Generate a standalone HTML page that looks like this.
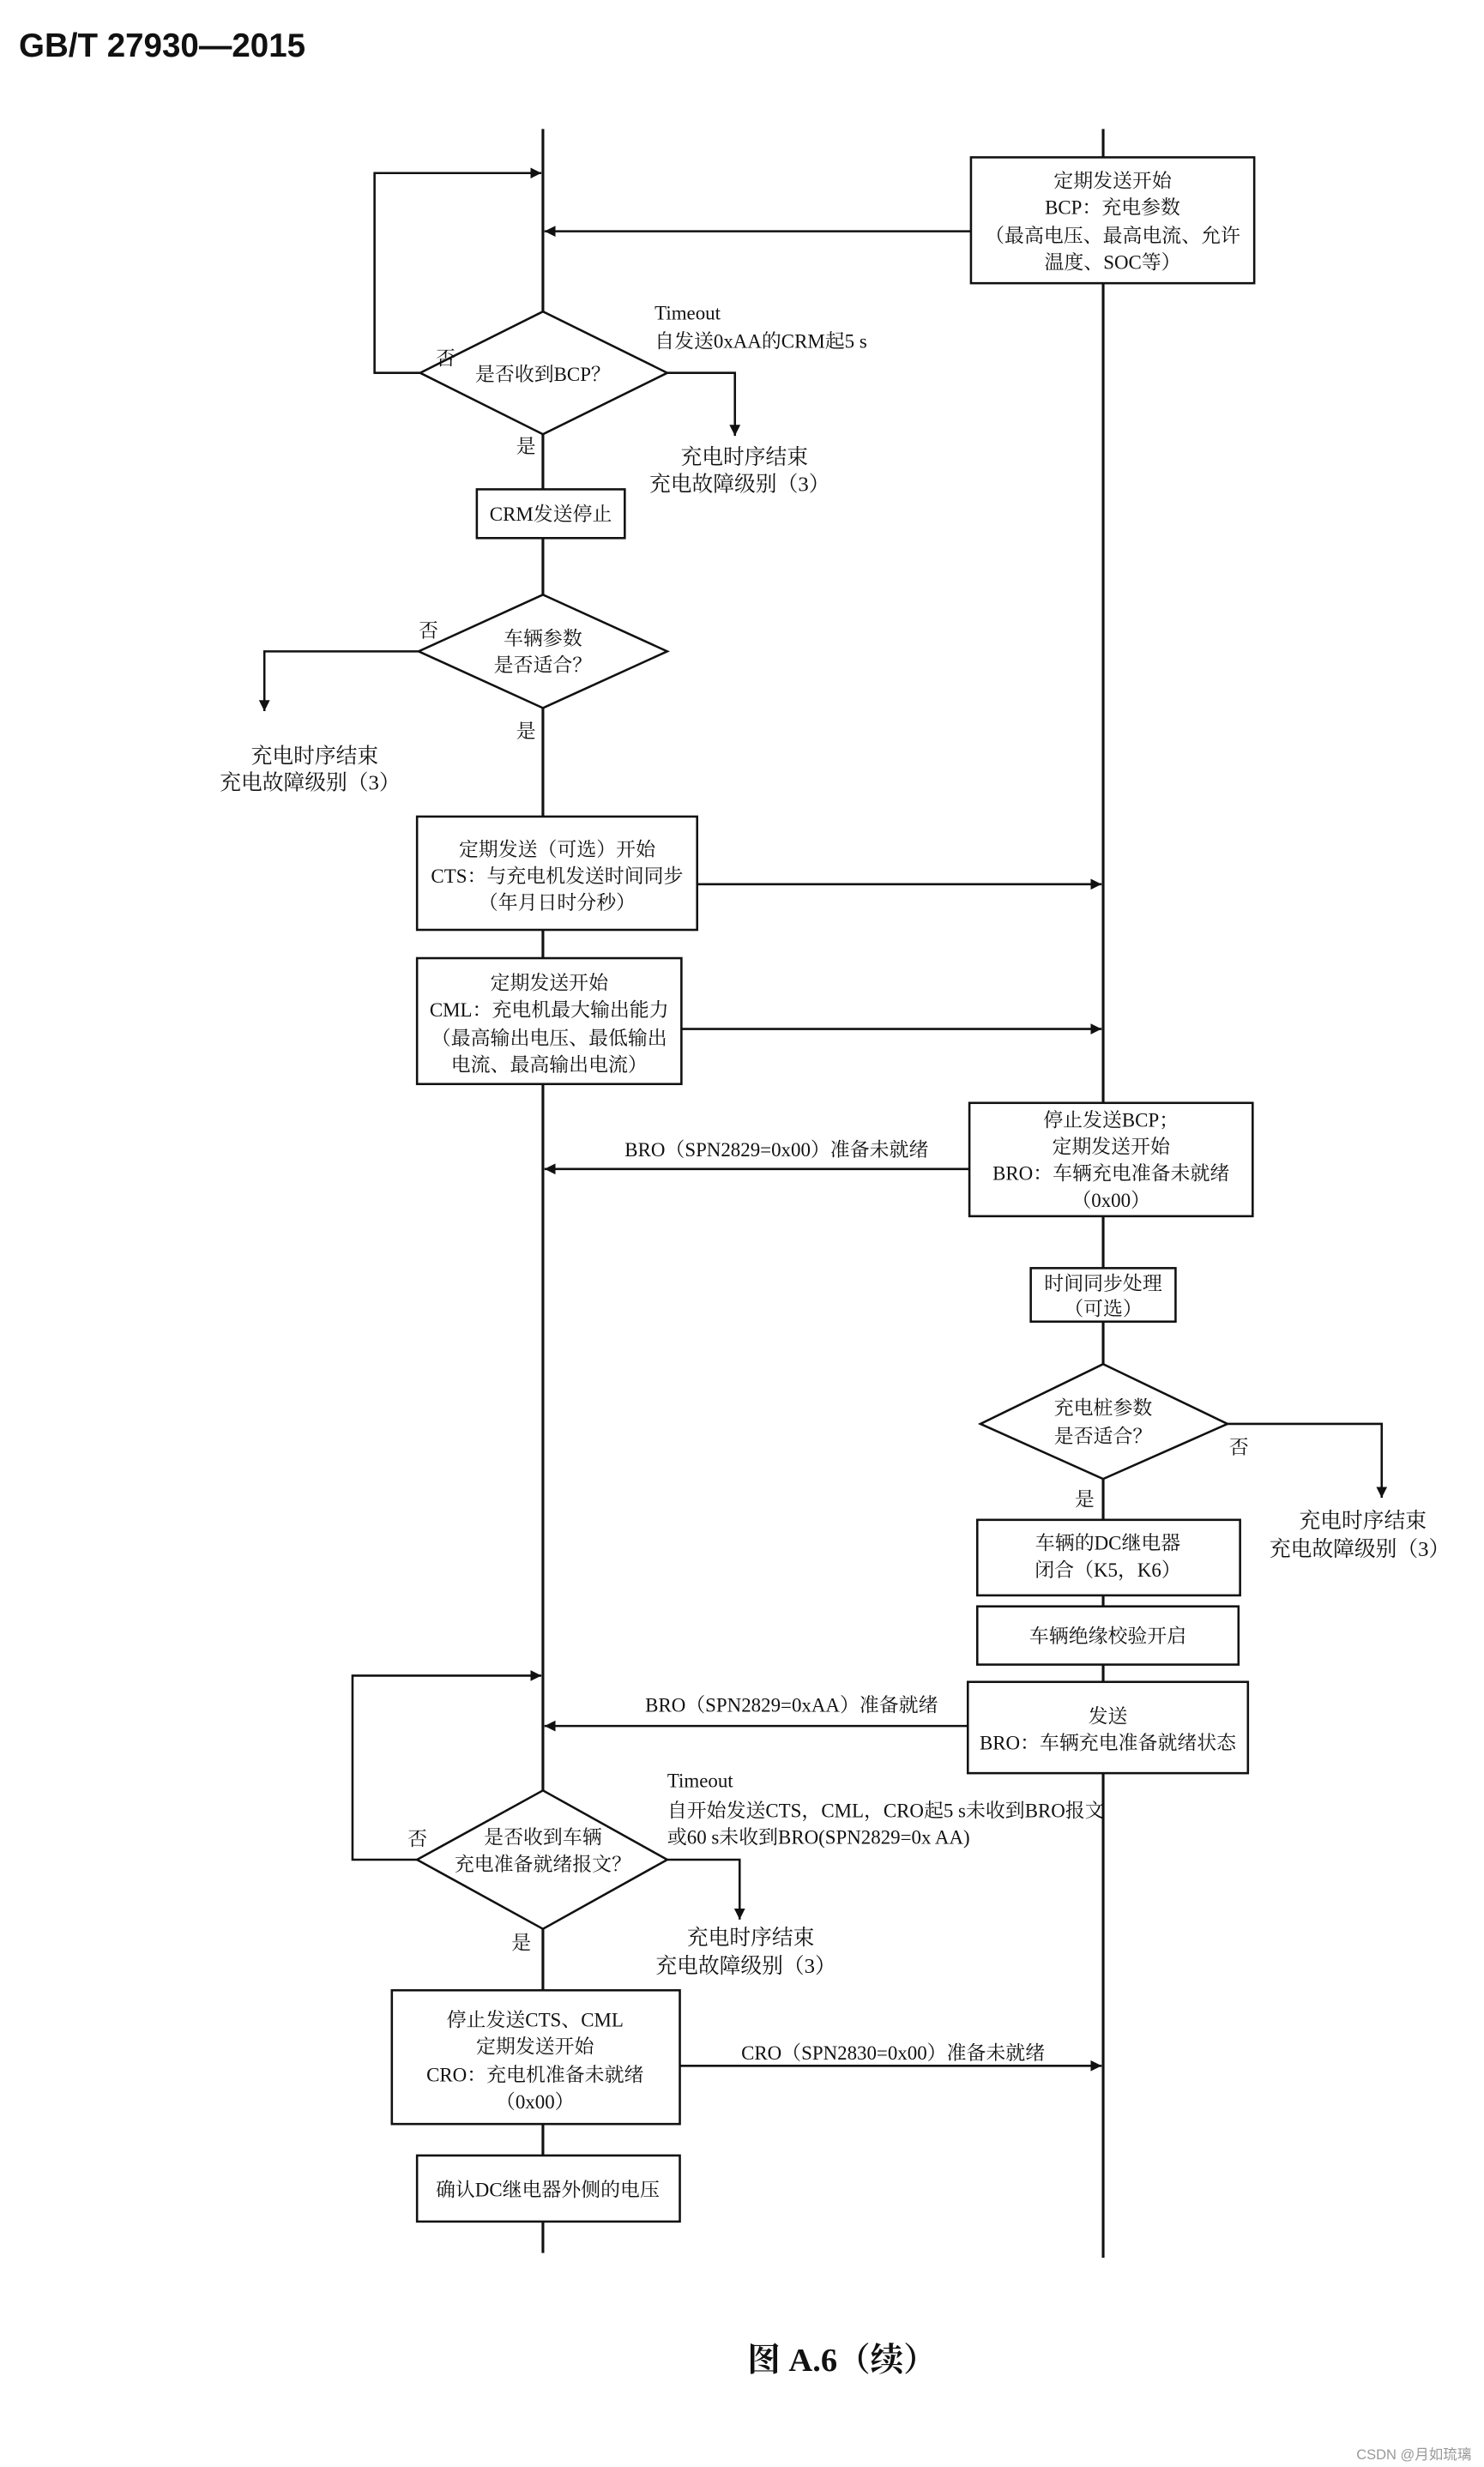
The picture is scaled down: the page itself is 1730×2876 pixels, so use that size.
<!DOCTYPE html>
<html><head><meta charset="utf-8"><style>
html,body{margin:0;padding:0;background:#fff;}
svg{display:block;}
text{font-family:"Liberation Serif","Noto Serif CJK SC",serif;font-size:12.5px;fill:#111;}
.c{text-anchor:middle;}
</style></head><body>
<svg width="1730" height="2876" viewBox="0 0 943 1568" preserveAspectRatio="none" xmlns="http://www.w3.org/2000/svg">
<defs><marker id="a" viewBox="0 0 10 10" refX="10" refY="5" markerWidth="7" markerHeight="7" orient="auto" markerUnits="userSpaceOnUse"><path d="M0,0 L10,5 L0,10 z" fill="#111"/></marker></defs>
<text x="12" y="36" style="font-family:'Liberation Sans',sans-serif;font-size:21px;font-weight:bold">GB/T 27930—2015</text>
<g stroke="#111" stroke-width="1.7" fill="none">
<line x1="345" y1="82" x2="345" y2="1432"/>
<line x1="701" y1="82" x2="701" y2="1435"/>
</g>
<g stroke="#111" stroke-width="1.4" fill="#fff">
<rect x="617" y="100" width="180" height="80"/>
<polygon points="345,198 424,237 345,276 267,237"/>
<rect x="303" y="311" width="94" height="31"/>
<polygon points="345,378 424,414 345,450 266,414"/>
<rect x="265" y="519" width="178" height="72"/>
<rect x="265" y="609" width="168" height="80"/>
<rect x="616" y="701" width="180" height="72"/>
<rect x="655" y="806" width="92" height="34"/>
<polygon points="701,867 780,905 701,940 623,905"/>
<rect x="621" y="966" width="167" height="48"/>
<rect x="621" y="1021" width="166" height="37"/>
<rect x="615" y="1069" width="178" height="58"/>
<polygon points="345,1138 424,1182 345,1226 265,1182"/>
<rect x="249" y="1265" width="183" height="85"/>
<rect x="265" y="1370" width="167" height="42"/>
</g>
<g stroke="#111" stroke-width="1.4" fill="none" marker-end="url(#a)">
<line x1="617" y1="147" x2="346" y2="147"/>
<polyline points="267,237 238,237 238,110 344,110"/>
<polyline points="424,237 467,237 467,277"/>
<polyline points="266,414 168,414 168,452"/>
<line x1="443" y1="562" x2="700" y2="562"/>
<line x1="433" y1="654" x2="700" y2="654"/>
<line x1="616" y1="743" x2="346" y2="743"/>
<polyline points="780,905 878,905 878,952"/>
<line x1="615" y1="1097" x2="346" y2="1097"/>
<polyline points="265,1182 224,1182 224,1065 344,1065"/>
<polyline points="424,1182 470,1182 470,1220"/>
<line x1="432" y1="1313" x2="700" y2="1313"/>
</g>
<g class="c">
<text class="c" x="707" y="119">定期发送开始</text>
<text class="c" x="707" y="136">BCP：充电参数</text>
<text class="c" x="707" y="154">（最高电压、最高电流、允许</text>
<text class="c" x="707" y="171">温度、SOC等）</text>
<text class="c" x="345" y="242">是否收到BCP？</text>
<text class="c" x="350" y="331">CRM发送停止</text>
<text class="c" x="345" y="410">车辆参数</text>
<text class="c" x="345" y="427">是否适合？</text>
<text class="c" x="354" y="544">定期发送（可选）开始</text>
<text class="c" x="354" y="561">CTS：与充电机发送时间同步</text>
<text class="c" x="354" y="578">（年月日时分秒）</text>
<text class="c" x="349" y="629">定期发送开始</text>
<text class="c" x="349" y="646">CML：充电机最大输出能力</text>
<text class="c" x="349" y="664">（最高输出电压、最低输出</text>
<text class="c" x="349" y="681">电流、最高输出电流）</text>
<text class="c" x="706" y="716">停止发送BCP；</text>
<text class="c" x="706" y="733">定期发送开始</text>
<text class="c" x="706" y="750">BRO：车辆充电准备未就绪</text>
<text class="c" x="706" y="767">（0x00）</text>
<text class="c" x="701" y="820">时间同步处理</text>
<text class="c" x="701" y="836">（可选）</text>
<text class="c" x="701" y="899">充电桩参数</text>
<text class="c" x="701" y="917">是否适合？</text>
<text class="c" x="704" y="985">车辆的DC继电器</text>
<text class="c" x="704" y="1002">闭合（K5，K6）</text>
<text class="c" x="704" y="1044">车辆绝缘校验开启</text>
<text class="c" x="704" y="1095">发送</text>
<text class="c" x="704" y="1112">BRO：车辆充电准备就绪状态</text>
<text class="c" x="345" y="1172">是否收到车辆</text>
<text class="c" x="345" y="1189">充电准备就绪报文？</text>
<text class="c" x="340" y="1288">停止发送CTS、CML</text>
<text class="c" x="340" y="1305">定期发送开始</text>
<text class="c" x="340" y="1323">CRO：充电机准备未就绪</text>
<text class="c" x="340" y="1340">（0x00）</text>
<text class="c" x="348" y="1396">确认DC继电器外侧的电压</text>
<text class="c" x="473" y="295" style="font-size:13.5px">充电时序结束</text>
<text class="c" x="470" y="312" style="font-size:13.5px">充电故障级别（3）</text>
<text class="c" x="200" y="485" style="font-size:13.5px">充电时序结束</text>
<text class="c" x="197" y="502" style="font-size:13.5px">充电故障级别（3）</text>
<text class="c" x="866" y="971" style="font-size:13.5px">充电时序结束</text>
<text class="c" x="864" y="989" style="font-size:13.5px">充电故障级别（3）</text>
<text class="c" x="477" y="1236" style="font-size:13.5px">充电时序结束</text>
<text class="c" x="474" y="1254" style="font-size:13.5px">充电故障级别（3）</text>
</g>
<text x="416" y="203">Timeout</text>
<text x="416" y="221">自发送0xAA的CRM起5 s</text>
<text x="424" y="1136">Timeout</text>
<text x="424" y="1155">自开始发送CTS，CML，CRO起5 s未收到BRO报文</text>
<text x="424" y="1172">或60 s未收到BRO(SPN2829=0x AA)</text>
<text x="397" y="735">BRO（SPN2829=0x00）准备未就绪</text>
<text x="410" y="1088">BRO（SPN2829=0xAA）准备就绪</text>
<text x="471" y="1309">CRO（SPN2830=0x00）准备未就绪</text>
<text x="277" y="232">否</text>
<text x="266" y="405">否</text>
<text x="781" y="924">否</text>
<text x="259" y="1173">否</text>
<text x="328" y="288">是</text>
<text x="328" y="469">是</text>
<text x="683" y="957">是</text>
<text x="325" y="1239">是</text>
<text x="535" y="1507" class="c" style="font-size:21px;font-weight:bold">图 A.6（续）</text>
<text x="935" y="1563" style="font-size:9px;fill:#999;text-anchor:end;font-family:'Liberation Sans','Noto Sans CJK SC',sans-serif">CSDN @月如琉璃</text>
</svg>
</body></html>
